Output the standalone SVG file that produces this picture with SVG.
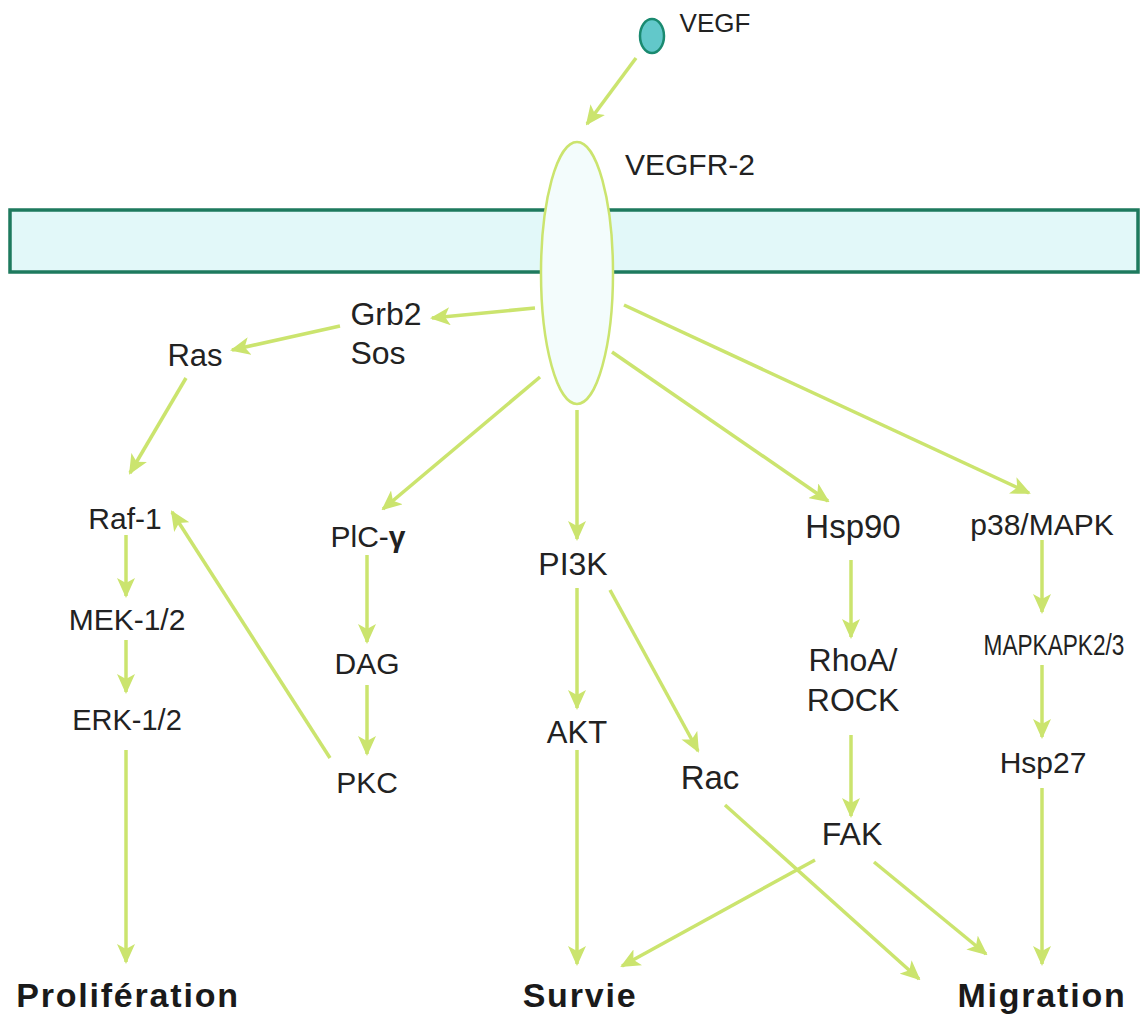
<svg xmlns="http://www.w3.org/2000/svg" width="1147" height="1015" viewBox="0 0 1147 1015">
<style>
.lbl{font-family:"Liberation Sans",Arial,sans-serif;font-size:30px;fill:#222;text-anchor:middle}
.out{font-family:"Liberation Sans",Arial,sans-serif;font-size:34px;font-weight:bold;fill:#1a1a1a;text-anchor:middle;letter-spacing:1.8px}
.c{stroke:#cbe46e;stroke-width:3.5;fill:none;marker-end:url(#ah)}
</style>
<defs>
<marker id="ah" markerUnits="userSpaceOnUse" viewBox="0 0 20 18" markerWidth="20" markerHeight="18" refX="18" refY="9" orient="auto">
<path d="M0,0 L20,9 L0,18 L5,9 z" fill="#cbe46e"/>
</marker>
</defs>
<rect width="1147" height="1015" fill="#ffffff"/>
<g id="membrane">
<rect x="10" y="210" width="1128" height="62" fill="#e2f8f9" stroke="#1e7a5e" stroke-width="3.5"/>
</g>
<g id="VEGFR-2">
<ellipse cx="577" cy="273" rx="36" ry="131" fill="#f3fcfc" stroke="#cbe46e" stroke-width="2.5"/>
<text class="lbl" x="690" y="175" font-size="28">VEGFR-2</text>
</g>
<g id="VEGF">
<ellipse cx="652" cy="36" rx="12" ry="17" fill="#62c8ca" stroke="#1a8a70" stroke-width="2.5"/>
<text class="lbl" x="715" y="32" style="font-size:26px">VEGF</text>
</g>
<g id="connectors">
<line class="c" x1="636" y1="58" x2="587" y2="124"/>
<line class="c" x1="535" y1="308" x2="432" y2="318"/>
<line class="c" x1="340" y1="326" x2="232" y2="350"/>
<line class="c" x1="186" y1="378" x2="130" y2="473"/>
<line class="c" x1="126" y1="535" x2="126" y2="596"/>
<line class="c" x1="126" y1="640" x2="126" y2="692"/>
<line class="c" x1="126" y1="750" x2="126" y2="962"/>
<line class="c" x1="330" y1="758" x2="172" y2="512"/>
<line class="c" x1="540" y1="377" x2="383" y2="509"/>
<line class="c" x1="367" y1="555" x2="367" y2="642"/>
<line class="c" x1="367" y1="685" x2="367" y2="754"/>
<line class="c" x1="577" y1="410" x2="577" y2="539"/>
<line class="c" x1="577" y1="588" x2="577" y2="708"/>
<line class="c" x1="577" y1="750" x2="577" y2="964"/>
<line class="c" x1="610" y1="590" x2="698" y2="751"/>
<line class="c" x1="612" y1="352" x2="828" y2="501"/>
<line class="c" x1="851" y1="560" x2="851" y2="637"/>
<line class="c" x1="851" y1="735" x2="851" y2="816"/>
<line class="c" x1="815" y1="860" x2="622" y2="966"/>
<line class="c" x1="874" y1="862" x2="986" y2="954"/>
<line class="c" x1="725" y1="805" x2="919" y2="979"/>
<line class="c" x1="624" y1="305" x2="1029" y2="493"/>
<line class="c" x1="1042" y1="540" x2="1042" y2="612"/>
<line class="c" x1="1042" y1="665" x2="1042" y2="737"/>
<line class="c" x1="1042" y1="788" x2="1042" y2="964"/>
</g>
<g id="Grb2-Sos"><text class="lbl" x="386" y="325" style="font-size:32px">Grb2</text><text class="lbl" x="378" y="364" style="font-size:32px">Sos</text></g>
<g id="Ras"><text class="lbl" x="195" y="366" style="font-size:31px">Ras</text></g>
<g id="Raf-1"><text class="lbl" x="125" y="529">Raf-1</text></g>
<g id="MEK"><text class="lbl" x="127" y="630">MEK-1/2</text></g>
<g id="ERK"><text class="lbl" x="127" y="730" style="font-size:29px">ERK-1/2</text></g>
<g id="PIC"><text class="lbl" x="368" y="547">PlC-<tspan font-weight="bold">γ</tspan></text></g>
<g id="DAG"><text class="lbl" x="367" y="674">DAG</text></g>
<g id="PKC"><text class="lbl" x="367" y="793">PKC</text></g>
<g id="PI3K"><text class="lbl" x="573" y="575" style="font-size:32px">PI3K</text></g>
<g id="AKT"><text class="lbl" x="577" y="743" style="font-size:31px">AKT</text></g>
<g id="Rac"><text class="lbl" x="710" y="789" style="font-size:33px">Rac</text></g>
<g id="Hsp90"><text class="lbl" x="853" y="538" style="font-size:33px">Hsp90</text></g>
<g id="RhoA-ROCK"><text class="lbl" x="853" y="671" style="font-size:32px">RhoA/</text><text class="lbl" x="853" y="711" style="font-size:32px">ROCK</text></g>
<g id="FAK"><text class="lbl" x="852" y="845" style="font-size:32px">FAK</text></g>
<g id="p38"><text class="lbl" x="1042" y="535">p38/MAPK</text></g>
<g id="MAPKAPK"><text class="lbl" transform="translate(1054,655) scale(0.78,1)" x="0" y="0" style="font-size:29px">MAPKAPK2/3</text></g>
<g id="Hsp27"><text class="lbl" x="1043" y="773">Hsp27</text></g>
<g id="Proliferation"><text class="out" x="128" y="1007">Prolifération</text></g>
<g id="Survie"><text class="out" x="580" y="1007">Survie</text></g>
<g id="Migration"><text class="out" x="1042" y="1007">Migration</text></g>
</svg>
